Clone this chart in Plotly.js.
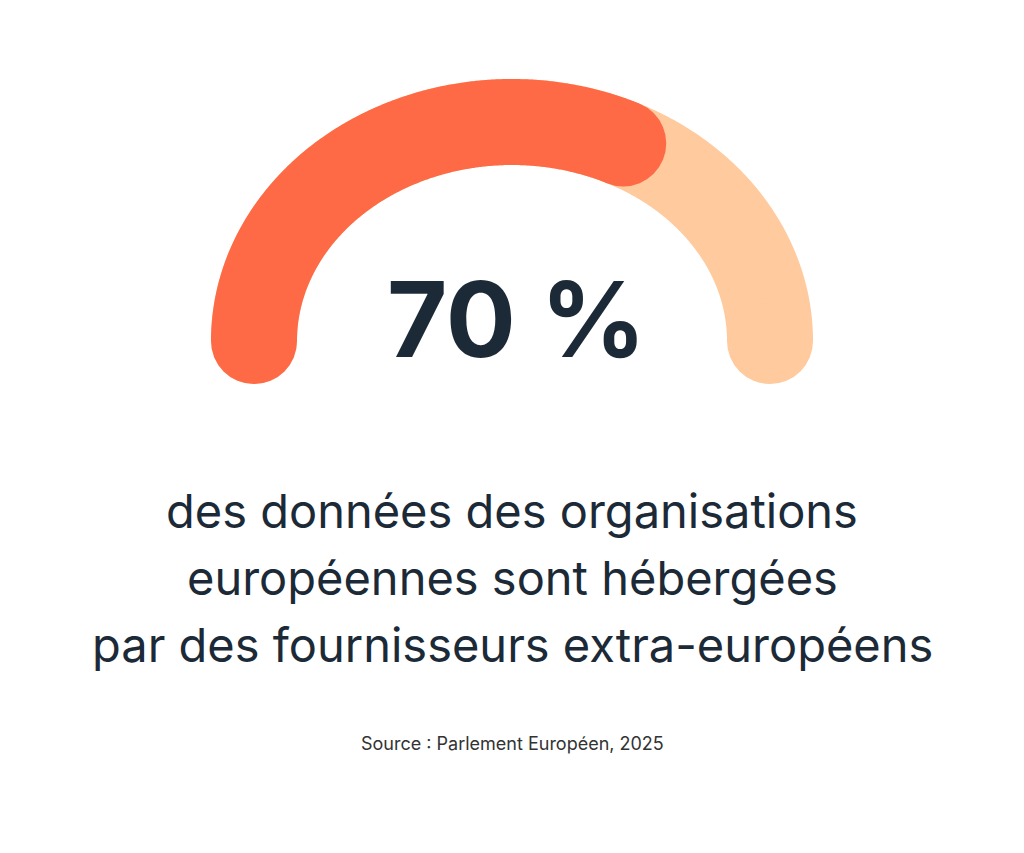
<!DOCTYPE html>
<html>
<head>
<meta charset="utf-8">
<script src="https://cdn.plot.ly/plotly-3.0.1.min.js"></script>
<style>
  html, body { margin: 0; padding: 0; background: #ffffff; }
  #chart { width: 1024px; height: 853px; }
</style>
</head>
<body>
<div id="chart"></div>
<script>
// ---- Data ----
const gaugeValue = 70;          // percent shown by the gauge
const gaugeMax = 100;
const bigLabel = ['70 %'];
const captionLines = [
  'des données des organisations',
  'européennes sont hébergées',
  'par des fournisseurs extra-européens'
];
const sourceText = ['Source : Parlement Européen, 2025'];

// ---- Styling / geometry (layout, pixels) ----
const W = 1024, H = 853;
const cx = 512, cy = 341, rx = 258, ry = 219, bandW = 86;
const colFill = '#FE6A45', colTrack = '#FECA9E', colText = '#1C2A38';
const fontFam = 'Inter, "DejaVu Sans", sans-serif';

function pt(t) { return [cx + rx * Math.cos(t), cy - ry * Math.sin(t)]; }
function tipAngle(t) {
  // polar angle of the rounded end tip when the arc ends (clockwise) at param t
  const dx = rx * Math.sin(t), dy = ry * Math.cos(t);
  const n = Math.hypot(dx, dy);
  const p = pt(t);
  const tx = p[0] + bandW / 2 * dx / n, ty = p[1] + bandW / 2 * dy / n;
  return Math.atan2(cy - ty, tx - cx);
}
const startTip = Math.atan2(-(bandW / 2), -rx) + 2 * Math.PI; // left end tip angle
const endTip = tipAngle(0);
const span = startTip - endTip;
const target = startTip - gaugeValue / gaugeMax * span;
let lo = 0, hi = Math.PI;
for (let i = 0; i < 60; i++) {
  const mid = (lo + hi) / 2;
  let a = tipAngle(mid);
  if (a < -Math.PI / 2) a += 2 * Math.PI;
  if (a > target) hi = mid; else lo = mid;
}
const tEnd = (lo + hi) / 2;

function arc(t0, t1, n) {
  const xs = [], ys = [];
  for (let i = 0; i <= n; i++) {
    const t = t0 + (t1 - t0) * i / n;
    const p = pt(t);
    xs.push(p[0]); ys.push(p[1]);
  }
  return { x: xs, y: ys };
}
const track = arc(Math.PI, 0, 360);
const fill = arc(Math.PI, tEnd, 360);

const traces = [
  { type: 'scatter', mode: 'lines', x: track.x, y: track.y,
    line: { color: colTrack, width: bandW, simplify: false }, hoverinfo: 'skip' },
  { type: 'scatter', mode: 'markers',
    x: [track.x[0], track.x[track.x.length - 1]],
    y: [track.y[0], track.y[track.y.length - 1]],
    marker: { color: colTrack, size: bandW, line: { width: 0 } }, hoverinfo: 'skip' },
  { type: 'scatter', mode: 'lines', x: fill.x, y: fill.y,
    line: { color: colFill, width: bandW, simplify: false }, hoverinfo: 'skip' },
  { type: 'scatter', mode: 'markers',
    x: [fill.x[0], fill.x[fill.x.length - 1]],
    y: [fill.y[0], fill.y[fill.y.length - 1]],
    marker: { color: colFill, size: bandW, line: { width: 0 } }, hoverinfo: 'skip' }
];

const annotations = [];
annotations.push({
  text: '<b>' + bigLabel[0] + '</b>', x: 516 / W, y: 1 - 319 / H,
  xref: 'paper', yref: 'paper', xanchor: 'center', yanchor: 'middle', showarrow: false,
  font: { family: fontFam, size: 104, color: colText }
});
const lineY = [510, 577, 644];
captionLines.forEach((s, i) => annotations.push({
  text: s, x: 512 / W, y: 1 - lineY[i] / H,
  xref: 'paper', yref: 'paper', xanchor: 'center', yanchor: 'middle', showarrow: false,
  font: { family: fontFam, size: 47, color: colText }
}));
annotations.push({
  text: sourceText[0], x: 512 / W, y: 1 - 743 / H,
  xref: 'paper', yref: 'paper', xanchor: 'center', yanchor: 'middle', showarrow: false,
  font: { family: fontFam, size: 18, color: '#333333' }
});

const layout = {
  width: W, height: H,
  margin: { l: 0, r: 0, t: 0, b: 0, pad: 0 },
  paper_bgcolor: '#ffffff', plot_bgcolor: '#ffffff',
  showlegend: false,
  xaxis: { range: [0, W], visible: false, fixedrange: true },
  yaxis: { range: [H, 0], visible: false, fixedrange: true },
  annotations: annotations
};

Plotly.newPlot('chart', traces, layout, { displayModeBar: false, staticPlot: true });
</script>
</body>
</html>
